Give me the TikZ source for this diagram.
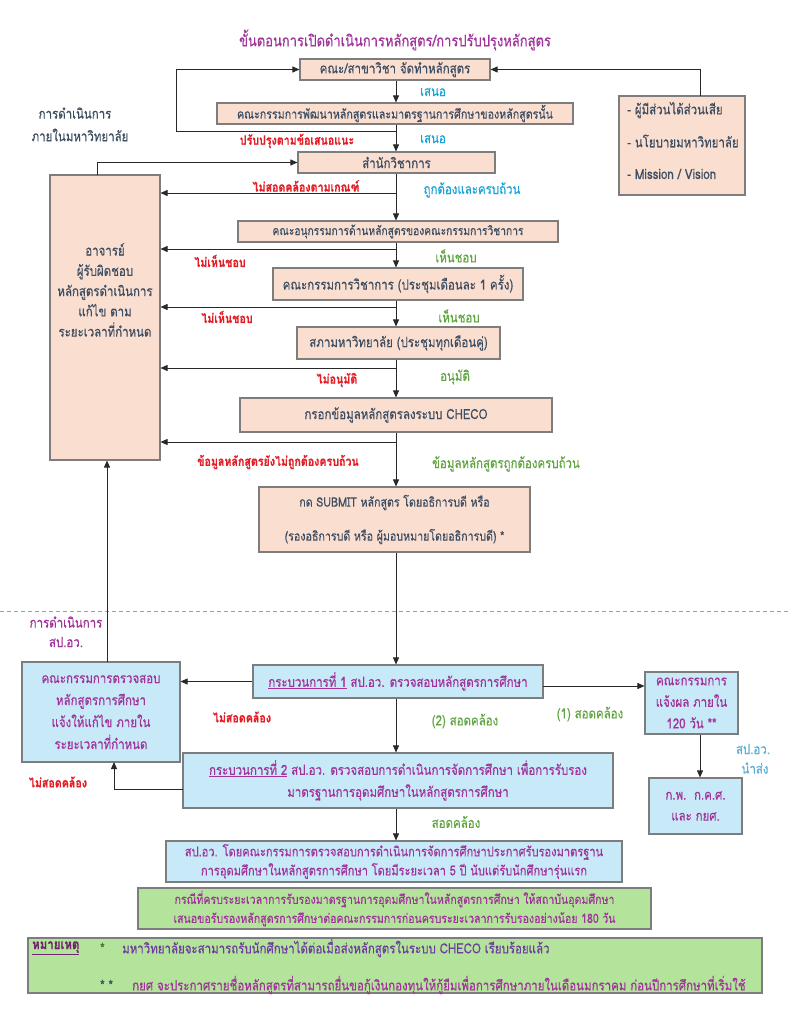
\documentclass[tikz,border=0pt]{standalone}
\usepackage{fontspec}
\newfontfamily\thai[Script=Thai,FakeStretch=0.82,FakeBold=0.4]{Loma}
\usetikzlibrary{arrows.meta}
\definecolor{peach}{RGB}{250,223,209}
\definecolor{bgray}{RGB}{125,125,125}
\definecolor{lblue}{RGB}{200,233,248}
\definecolor{lgreen}{RGB}{180,227,156}
\definecolor{slate}{RGB}{62,78,98}
\definecolor{purp}{RGB}{160,52,155}
\definecolor{redl}{RGB}{228,30,38}
\definecolor{cyanl}{RGB}{28,164,214}
\definecolor{greenl}{RGB}{96,165,64}
\definecolor{skyl}{RGB}{95,175,215}
\definecolor{dashor}{RGB}{226,140,80}
\definecolor{arrowc}{RGB}{40,40,40}
\definecolor{notepurp}{RGB}{110,60,160}
\begin{document}
\begin{tikzpicture}[x=1pt,y=-1pt,
  tf/.style={font=\thai\fontsize{14}{16}\selectfont},
  tfs/.style={font=\thai\fontsize{13}{15}\selectfont},
  tfr/.style={font=\thai\bfseries\fontsize{13}{15}\selectfont},
  boxbase/.style={draw=bgray, line width=1.1pt, inner sep=0pt, align=center, tf},
  pbox/.style={boxbase, fill=peach, text=slate},
  bbox/.style={boxbase, fill=lblue, text=purp},
  gbox/.style={boxbase, fill=lgreen, text=purp},
  arr/.style={draw=arrowc, line width=0.8pt, -{Triangle[width=6pt,length=7pt]}},
  lbl/.style={inner sep=0pt, tf},
  rlbl/.style={inner sep=0pt, tfr, text=redl},
  wh/.style 2 args={minimum width=#1, minimum height=#2}
]
\useasboundingbox (0,0) rectangle (791,1024);
\fill[white] (0,0) rectangle (791,1024);

% title
\node[lbl, text=purp, font=\thai\fontsize{15.8}{18}\selectfont] (title) at (395,40) {ขั้นตอนการเปิดดำเนินการหลักสูตร/การปรับปรุงหลักสูตร};

% spine x
\coordinate (spine) at (396,0);
\coordinate (x700) at (700,0);

% peach boxes
\node[pbox, wh={190}{21}] (b1) at (395,69.5) {คณะ/สาขาวิชา จัดทำหลักสูตร};
\node[pbox, wh={356}{21}, tfs] (b2) at (395,113.5) {คณะกรรมการพัฒนาหลักสูตรและมาตรฐานการศึกษาของหลักสูตรนั้น};
\node[pbox, wh={197}{21}] (b3) at (396.5,162.5) {สำนักวิชาการ};
\node[pbox, wh={320}{21}, font=\thai\fontsize{12.5}{15}\selectfont] (b4) at (398,231.5) {คณะอนุกรรมการด้านหลักสูตรของคณะกรรมการวิชาการ};
\node[pbox, wh={250}{32}] (b5) at (398,284) {คณะกรรมการวิชาการ (ประชุมเดือนละ 1 ครั้ง)};
\node[pbox, wh={203}{32}] (b6) at (398.5,343) {สภามหาวิทยาลัย (ประชุมทุกเดือนคู่)};
\node[pbox, wh={312}{34}] (b7) at (396,415) {กรอกข้อมูลหลักสูตรลงระบบ CHECO};
\node[pbox, wh={271}{65}, font=\thai\fontsize{13}{34}\selectfont] (b8) at (394.5,519.5) {กด SUBMIT หลักสูตร โดยอธิการบดี หรือ\\(รองอธิการบดี หรือ ผู้มอบหมายโดยอธิการบดี) *};

% left box
\node[pbox, wh={110}{285}] (L) at (105,317.5) {};
\node[lbl, text=slate, align=center, font=\thai\fontsize{14}{20.3}\selectfont] (Ltext) at (105,290) {อาจารย์\\ผู้รับผิดชอบ\\หลักสูตรดำเนินการ\\แก้ไข ตาม\\ระยะเวลาที่กำหนด};

% right box
\node[pbox, wh={126}{99}] (R) at (682,145.5) {};
\node[lbl, text=slate, anchor=west] (R1) at (627,110) {- ผู้มีส่วนได้ส่วนเสีย};
\node[lbl, text=slate, anchor=west] (R2t) at (627,141) {- นโยบายมหาวิทยาลัย};
\node[lbl, text=slate, anchor=west] (R3t) at (627,174) {- Mission / Vision};

% side labels
\node[lbl, text=slate] (in1) at (75,113) {การดำเนินการ};
\node[lbl, text=slate] (in2) at (80,135) {ภายในมหาวิทยาลัย};

% connectors top part
\draw[arr] (b1.south -| spine) -- (b2.north -| spine);
\draw[arr] (b2.south -| spine) -- (b3.north -| spine);
\draw[arr] (b3.south -| spine) -- (b4.north -| spine);
\draw[arr] (b4.south -| spine) -- (b5.north -| spine);
\draw[arr] (b5.south -| spine) -- (b6.north -| spine);
\draw[arr] (b6.south -| spine) -- (b7.north -| spine);
\draw[arr] (b7.south -| spine) -- (b8.north -| spine);

\coordinate (lp1) at (396,131);
\coordinate (lp2) at (176,131);
\draw[arr] (lp1) -- (lp2) |- (b1.west);
\coordinate (rt) at (700,96);
\draw[arr] (rt) |- (b1.east);
\coordinate (lt) at (97,175);
\draw[arr] (lt) |- (b3.west);

\coordinate (s1) at (396,193);
\coordinate (s2) at (396,249);
\coordinate (s3) at (396,307);
\coordinate (s4) at (396,368);
\coordinate (s5) at (396,442);
\draw[arr] (s1) -- (s1 -| L.east);
\draw[arr] (s2) -- (s2 -| L.east);
\draw[arr] (s3) -- (s3 -| L.east);
\draw[arr] (s4) -- (s4 -| L.east);
\draw[arr] (s5) -- (s5 -| L.east);

% labels top part
\node[lbl, text=cyanl] (la1) at (433,92) {เสนอ};
\node[lbl, text=cyanl] (la2) at (433,139) {เสนอ};
\node[rlbl] (la3) at (297,141) {ปรับปรุงตามข้อเสนอแนะ};
\node[lbl, text=cyanl] (la4) at (472,190) {ถูกต้องและครบถ้วน};
\node[rlbl] (la5) at (306,186) {ไม่สอดคล้องตามเกณฑ์};
\node[rlbl] (la6) at (220,261) {ไม่เห็นชอบ};
\node[lbl, text=greenl] (la7) at (456,256) {เห็นชอบ};
\node[rlbl] (la8) at (227,317) {ไม่เห็นชอบ};
\node[lbl, text=greenl] (la9) at (459,316) {เห็นชอบ};
\node[rlbl] (la10) at (337,380) {ไม่อนุมัติ};
\node[lbl, text=greenl] (la11) at (455,377) {อนุมัติ};
\node[rlbl] (la12) at (278,462) {ข้อมูลหลักสูตรยังไม่ถูกต้องครบถ้วน};
\node[lbl, text=greenl] (la13) at (506,464) {ข้อมูลหลักสูตรถูกต้องครบถ้วน};

% dashed separator
\coordinate (d1) at (0,611);
\coordinate (d2) at (791,611);
\draw[dashor, line width=0.8pt, dash pattern=on 4pt off 3pt] (d1) -- (d2);

% lower part
\node[lbl, text=purp] (op1) at (66,622) {การดำเนินการ};
\node[lbl, text=purp] (op2) at (66,642) {สป.อว.};

\node[bbox, wh={158}{100}, font=\thai\fontsize{14}{22}\selectfont] (LB) at (101,712) {คณะกรรมการตรวจสอบ\\หลักสูตรการศึกษา\\แจ้งให้แก้ไข ภายใน\\ระยะเวลาที่กำหนด};
\node[bbox, wh={290}{33}] (P1) at (398,681.5) {\underline{กระบวนการที่ 1} สป.อว. ตรวจสอบหลักสูตรการศึกษา};
\node[bbox, wh={93}{62}, font=\thai\fontsize{14}{21.5}\selectfont] (RB2) at (691.5,703) {คณะกรรมการ\\แจ้งผล ภายใน\\120 วัน **};
\node[bbox, wh={430}{55}, font=\thai\fontsize{14}{22}\selectfont] (P2) at (398,780.5) {\underline{กระบวนการที่ 2} สป.อว. ตรวจสอบการดำเนินการจัดการศึกษา เพื่อการรับรอง\\มาตรฐานการอุดมศึกษาในหลักสูตรการศึกษา};
\node[bbox, wh={93}{56}, font=\thai\fontsize{14}{21}\selectfont] (RB3) at (695.5,806) {ก.พ.~~ก.ค.ศ.\\และ กยศ.};
\node[bbox, wh={456}{41}, font=\thai\fontsize{13.5}{19}\selectfont] (P3) at (394,861.5) {สป.อว. โดยคณะกรรมการตรวจสอบการดำเนินการจัดการศึกษาประกาศรับรองมาตรฐาน\\การอุดมศึกษาในหลักสูตรการศึกษา โดยมีระยะเวลา 5 ปี นับแต่รับนักศึกษารุ่นแรก};
\node[gbox, wh={513}{41}, font=\thai\fontsize{12.9}{19}\selectfont] (P4) at (394.5,908.5) {กรณีที่ครบระยะเวลาการรับรองมาตรฐานการอุดมศึกษาในหลักสูตรการศึกษา ให้สถาบันอุดมศึกษา\\เสนอขอรับรองหลักสูตรการศึกษาต่อคณะกรรมการก่อนครบระยะเวลาการรับรองอย่างน้อย 180 วัน};
\node[gbox, wh={734}{55}] (P5) at (395,965.5) {};
\node[lbl, text=purp!70!black, anchor=west, font=\thai\bfseries\fontsize{14}{16}\selectfont] (n0) at (32,948) {\underline{หมายเหตุ}};
\node[lbl, text=greenl!70!black, anchor=west] (n1s) at (100,948) {*};
\node[lbl, text=notepurp, anchor=west] (n1) at (122,948) {มหาวิทยาลัยจะสามารถรับนักศึกษาได้ต่อเมื่อส่งหลักสูตรในระบบ CHECO เรียบร้อยแล้ว};
\node[lbl, text=slate, anchor=west] (n2s) at (100,985) {* *};
\node[lbl, text=purp, anchor=west] (n2) at (132,985) {กยศ จะประกาศรายชื่อหลักสูตรที่สามารถยื่นขอกู้เงินกองทุนให้กู้ยืมเพื่อการศึกษาภายในเดือนมกราคม ก่อนปีการศึกษาที่เริ่มใช้};

% lower connectors
\draw[arr] (b8.south -| spine) -- (P1.north -| spine);
\coordinate (lb) at (107,662);
\draw[arr] (lb) -- (lb |- L.south);
\draw[arr] (P1.west) -- (P1.west -| LB.east);
\coordinate (p1e) at (543,686);
\draw[arr] (p1e) -- (p1e -| RB2.west);
\draw[arr] (P1.south -| spine) -- (P2.north -| spine);
\coordinate (p2w) at (183,789);
\coordinate (lb2) at (114,762);
\draw[arr] (p2w) -| (lb2);
\draw[arr] (RB2.south -| x700) -- (RB3.north -| x700);
\draw[arr] (P2.south -| spine) -- (P3.north -| spine);

\node[rlbl] (lc1) at (242,717) {ไม่สอดคล้อง};
\node[lbl, text=greenl] (lc2) at (590,714) {(1) สอดคล้อง};
\node[lbl, text=greenl] (lc3) at (465,721) {(2) สอดคล้อง};
\node[rlbl] (lc4) at (58,782) {ไม่สอดคล้อง};
\node[lbl, text=skyl] (lc5) at (753,749) {สป.อว.};
\node[lbl, text=skyl] (lc6) at (755,768) {นำส่ง};
\node[lbl, text=greenl] (lc7) at (456,822) {สอดคล้อง};
\end{tikzpicture}
\end{document}
